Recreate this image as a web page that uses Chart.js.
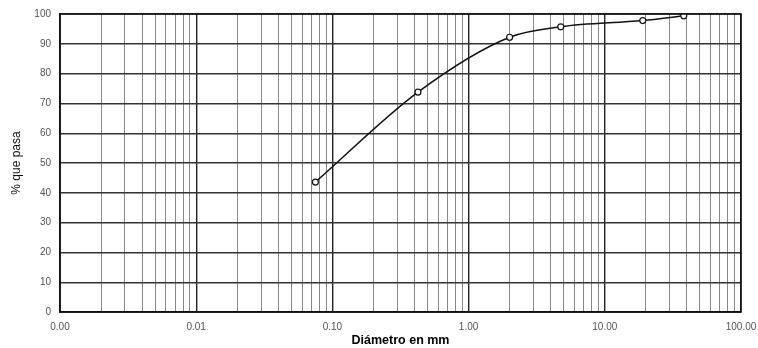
<!DOCTYPE html>
<html><head><meta charset="utf-8">
<script src="https://cdn.jsdelivr.net/npm/chart.js@4/dist/chart.umd.min.js"></script>
<style>html,body{margin:0;padding:0;background:#fff}#w{width:758px;height:348px}</style>
</head><body><div id="w"><canvas id="c"></canvas></div>
<script>
const diameters = [0.075, 0.425, 2.0, 4.75, 19, 38];
const passing = [43.6, 73.8, 92.2, 95.7, 97.8, 99.4];
const xTickValues = [];
for (let e = -3; e <= 1; e++) for (let m = 1; m <= 9; m++) xTickValues.push(+(m * Math.pow(10, e)).toPrecision(3));
xTickValues.push(100);
const decades = [0.001, 0.01, 0.1, 1, 10, 100];
const yTitle = '% que pasa';
const xTitle = 'Diámetro en mm';

const isDecade = v => decades.some(d => Math.abs(v - d) / d < 1e-6);

new Chart(document.getElementById('c'), {
  type: 'line',
  data: { datasets: [{
    data: diameters.map((d, i) => ({x: d, y: passing[i]})),
    borderColor: '#111', borderWidth: 1.5,
    pointRadius: 3, pointBackgroundColor: '#fff', pointBorderColor: '#111', pointBorderWidth: 1.2,
    cubicInterpolationMode: 'monotone', fill: false
  }]},
  options: {
    responsive: true, maintainAspectRatio: false, animation: false,
    layout: { padding: { top: 14, right: 17, left: 9, bottom: 0 } },
    plugins: { legend: { display: false }, tooltip: { enabled: false } },
    scales: {
      x: {
        type: 'logarithmic', min: 0.001, max: 100,
        afterBuildTicks: s => { s.ticks = xTickValues.map(v => ({value: v})); },
        afterFit: s => { s.height = 36; s.paddingLeft = 0; s.paddingRight = 0; },
        border: { color: '#111', width: 1.5 },
        grid: {
          drawTicks: false,
          color: c => isDecade(c.tick ? c.tick.value : 0) ? '#222' : '#8a8a8a',
          lineWidth: c => isDecade(c.tick ? c.tick.value : 0) ? 1.4 : 1
        },
        ticks: {
          autoSkip: false, maxRotation: 0, padding: 9,
          color: '#555', font: { family: 'Liberation Sans', size: 10 },
          callback: v => isDecade(v) ? v.toFixed(2) : ''
        },
        title: { display: true, text: xTitle, color: '#000', padding: { top: -6, bottom: 0 },
          font: { family: 'Liberation Sans', size: 12.5, weight: 'bold' } }
      },
      y: {
        min: 0, max: 100,
        afterFit: s => { s.width = 51; s.paddingTop = 0; s.paddingBottom = 0; },
        border: { color: '#111', width: 1.5 },
        grid: {
          drawTicks: false,
          color: c => (c.tick && c.tick.value % 10 === 0) ? '#333' : '#9a9a9a',
          lineWidth: c => (c.tick && c.tick.value % 10 === 0) ? 1.4 : 1
        },
        ticks: {
          stepSize: 5, padding: 9, color: '#555', font: { family: 'Liberation Sans', size: 10 },
          callback: v => v % 10 === 0 ? String(v) : ''
        },
        title: { display: true, text: yTitle, color: '#111', padding: { top: 0, bottom: 4 },
          font: { family: 'Liberation Sans', size: 12 } }
      }
    }
  },
  plugins: [{
    id: 'frame',
    afterDraw: ch => {
      const a = ch.chartArea, g = ch.ctx;
      g.save(); g.strokeStyle = '#111'; g.lineWidth = 1.5;
      g.strokeRect(a.left, a.top, a.right - a.left, a.bottom - a.top);
      g.restore();
    }
  }]
});
</script></body></html>
